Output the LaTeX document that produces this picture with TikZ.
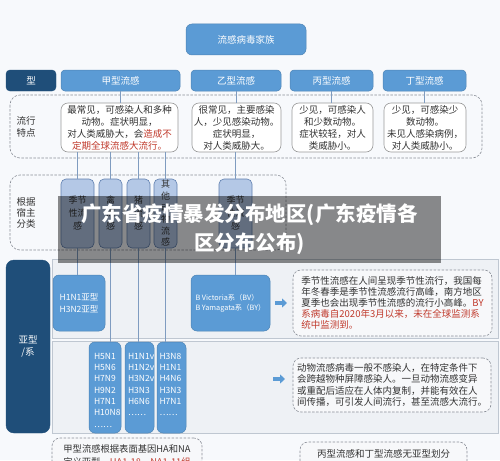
\documentclass[tikz,border=0pt]{standalone}
\usepackage{fontspec}
\setmainfont{Noto Sans CJK SC}
\usetikzlibrary{arrows.meta,calc}
\definecolor{bgc}{HTML}{F7F9FC}
\definecolor{blue1}{HTML}{5B9BD5}
\definecolor{navy}{HTML}{1F4E79}
\definecolor{hostfill}{HTML}{B4C8E6}
\definecolor{hostdraw}{HTML}{5F7FAF}
\definecolor{linec}{HTML}{7F9CC0}
\definecolor{dashc}{HTML}{8A8F98}
\definecolor{redt}{HTML}{C0392B}
\definecolor{txt}{HTML}{333333}
\definecolor{panelf}{HTML}{EEF1F5}
\definecolor{paneld}{HTML}{BFC7D1}
\definecolor{tboxf}{HTML}{F7F8FA}
\begin{document}
\begin{tikzpicture}[x=1pt,y=-1pt,
  every node/.style={inner sep=0pt, outer sep=0pt, text=txt},
  bluebox/.style={fill=blue1, draw=blue1!85!black, line width=0.5pt, text=white, rounded corners=4pt, font=\fontsize{9.5}{11}\selectfont},
  navybox/.style={fill=navy, draw=navy, text=white, rounded corners=4pt, align=center, font=\fontsize{9.5}{12}\selectfont},
  featbox/.style={draw=gray!80, fill=white, line width=0.6pt, rounded corners=7pt, align=center, font=\fontsize{9.5}{12}\selectfont},
  hostbox/.style={fill=hostfill, draw=hostdraw, line width=0.6pt, rounded corners=5pt, align=center, font=\fontsize{9}{13}\selectfont},
  subbox/.style={fill=blue1, draw=blue1!85!black, line width=0.5pt, text=white, rounded corners=6pt, align=center, font=\fontsize{8.5}{11.3}\selectfont},
  subtxt/.style={text=white, align=left, anchor=north west, font=\fontsize{8.5}{11.3}\selectfont},
  lbl/.style={align=center, font=\fontsize{9.5}{12}\selectfont},
  dashreg/.style={draw=dashc, dash pattern=on 2.5pt off 1.5pt, rounded corners=10pt, line width=0.6pt},
  panel/.style={fill=panelf, draw=paneld, line width=0.6pt},
  tbox/.style={draw=dashc, fill=tboxf, dash pattern=on 2.5pt off 1.5pt, rounded corners=8pt, line width=0.6pt},
  tboxtxt/.style={align=left, font=\fontsize{9.5}{11}\selectfont},
  conn/.style={draw=linec, line width=0.8pt},
  barrow/.style={draw=blue1, line width=3.5pt, -{Triangle[length=5pt,width=9pt]}}
]
\useasboundingbox (0,0) rectangle (500,460);
\fill[bgc] (0,0) rectangle (500,460);

% regions and panels
\draw[dashreg] (10,95) rectangle (482,158);
\draw[dashreg] (10,175) rectangle (286,250);
\draw[panel] (52,259) rectangle (498,338);
\draw[panel] (52,341) rectangle (498,433);

% top
\node[bluebox, minimum width=120pt, minimum height=31pt, rounded corners=6pt] (fam) at (246,39.5) {流感病毒家族};
\node[navybox, minimum width=50pt, minimum height=21pt] (xing) at (31,80.5) {型};
\node[bluebox, minimum width=119pt, minimum height=21pt] (tA) at (120.5,80.5) {甲型流感};
\node[bluebox, minimum width=90pt, minimum height=21pt] (tB) at (236,80.5) {乙型流感};
\node[bluebox, minimum width=83pt, minimum height=21pt] (tC) at (331.5,80.5) {丙型流感};
\node[bluebox, minimum width=83pt, minimum height=21pt] (tD) at (424.5,80.5) {丁型流感};

% features
\node[lbl] (lx) at (26,127) {流行\\特点};
\node[featbox, minimum width=117pt, minimum height=49pt] (fA) at (119.5,127.5) {最常见，可感染人和多种\\动物。症状明显，\\对人类威胁大，会\textcolor{redt}{造成不}\\\textcolor{redt}{定期全球流感大流行。}};
\node[featbox, minimum width=89pt, minimum height=49pt] (fB) at (236.5,127.5) {很常见，主要感染\\人，少见感染动物。\\症状明显，\\对人类威胁大。};
\node[featbox, minimum width=81pt, minimum height=49pt] (fC) at (332.5,127.5) {少见，可感染人\\和少数动物。\\症状较轻，对人\\类威胁小。};
\node[featbox, minimum width=82pt, minimum height=49pt] (fD) at (425,127.5) {少见，可感染少\\数动物。\\未见人感染病例，\\对人类威胁小。};

% hosts
\node[lbl, font=\fontsize{9.5}{11}\selectfont] (lh) at (26,213) {根据\\宿主\\分类};
\node[hostbox, minimum width=33pt, minimum height=69pt] (h1) at (77.5,213.5) {季节\\性流\\感};
\node[hostbox, minimum width=23pt, minimum height=69pt] (h2) at (110.5,213.5) {禽\\流\\感};
\node[hostbox, minimum width=23pt, minimum height=69pt] (h3) at (138.5,213.5) {猪\\流\\感};
\node[hostbox, minimum width=23pt, minimum height=69pt, font=\fontsize{9}{11.6}\selectfont] (h4) at (165.5,213.5) {其\\他\\动\\物\\流\\感};
\node[hostbox, minimum width=33pt, minimum height=69pt] (h5) at (235.5,213.5) {季节\\性流\\感};

% subtypes
\node[navybox, minimum width=44pt, minimum height=173pt, rounded corners=8pt] (yx) at (28,346.5) {亚型\\/系};
\node[subbox, minimum width=52pt, minimum height=56pt] (s0) at (79,303) {H1N1亚型\\H3N2亚型};
\node[subbox, minimum width=79pt, minimum height=56pt, align=left, font=\fontsize{7.3}{10}\selectfont] (sBV) at (230.5,303) {B Victoria系（BV）\\B Yamagata系（BY）};
\node[tbox, minimum width=199pt, minimum height=66pt] (n1) at (392.5,303) {};
\node[tboxtxt] (n1t) at (n1) {季节性流感在人间呈现季节性流行，我国每\\年冬春季是季节性流感流行高峰，南方地区\\夏季也会出现季节性流感的流行小高峰。\textcolor{redt}{BY}\\\textcolor{redt}{系病毒自2020年3月以来，未在全球监测系}\\\textcolor{redt}{统中监测到。}};

\node[subbox, minimum width=32pt, minimum height=91pt] (sA) at (105,387.5) {};
\node[subbox, minimum width=29pt, minimum height=91pt] (sB) at (139.5,387.5) {};
\node[subbox, minimum width=29pt, minimum height=91pt] (sC) at (171.5,387.5) {};
\node[subtxt] (sAt) at ($(sA.north west)+(5,11)$) {H5N1\\H5N6\\H7N9\\H9N2\\H7N1\\H10N8\\……};
\node[subtxt] (sBt) at ($(sB.north west)+(3,11)$) {H1N1v\\H1N2v\\H3N2v\\H3N3\\H6N6\\……};
\node[subtxt] (sCt) at ($(sC.north west)+(2.5,11)$) {H3N8\\H1N1\\H4N6\\H3N3\\H7N1\\……};
\node[tbox, minimum width=198pt, minimum height=54pt] (n2) at (392,385) {};
\node[tboxtxt, font=\fontsize{9.5}{11.5}\selectfont] (n2t) at (n2) {动物流感病毒一般不感染人，在特定条件下\\会跨越物种屏障感染人。一旦动物流感变异\\或重配后适应在人体内复制，并能有效在人\\间传播，可引发人间流行，甚至流感大流行。};

% bottom notes
\node[tbox, minimum width=150pt, minimum height=40pt] (bl) at (127,458) {};
\node[tboxtxt, align=center, anchor=north, font=\fontsize{9.3}{13}\selectfont] (blt) at ($(bl.north)+(0,6.5)$) {甲型流感根据表面基因HA和NA\\定义亚型，\textcolor{redt}{HA1-18，NA1-11组}};
\node[tbox, minimum width=167pt, minimum height=38pt] (br) at (383.5,461) {};
\node[tboxtxt, anchor=north] (brt) at ($(br.north)+(0,7.5)$) {丙型流感和丁型流感无亚型划分};

% connectors
\draw[conn] (tA.south) -- (tA.south |- fA.north);
\draw[conn] (tB.south) -- (tB.south |- fB.north);
\draw[conn] (tC.south) -- (tC.south |- fC.north);
\draw[conn] (tD.south) -- (tD.south |- fD.north);
\draw[conn] (h1.north |- fA.south) -- (h1.north);
\draw[conn] (h2.north |- fA.south) -- (h2.north);
\draw[conn] (h3.north |- fA.south) -- (h3.north);
\draw[conn] (h4.north |- fA.south) -- (h4.north);
\draw[conn] (h5.north |- fB.south) -- (h5.north);
\draw[conn] (h1.south) -- (h1.south |- s0.north);
\draw[conn] (h2.south) -- (h2.south |- sA.north);
\draw[conn] (h3.south) -- (h3.south |- sB.north);
\draw[conn] (h4.south) -- (h4.south |- sC.north);
\draw[conn] (h5.south) -- (h5.south |- sBV.north);

% arrows
\coordinate (a1s) at (275,303);
\coordinate (a2s) at (273,379);
\draw[barrow, shorten >=6pt] (a1s) -- (a1s -| n1.west);
\draw[barrow, shorten >=8pt] (a2s) -- (a2s -| n2.west);

% overlay banner
\node[fill=black, fill opacity=0.45, text opacity=1, text=white, minimum width=383pt, minimum height=67pt, align=center, font=\fontsize{20.5}{29}\selectfont\bfseries] (wm) at (249.5,229.5) {广东省疫情暴发分布地区(广东疫情各\\区分布公布)};
\end{tikzpicture}
\end{document}
